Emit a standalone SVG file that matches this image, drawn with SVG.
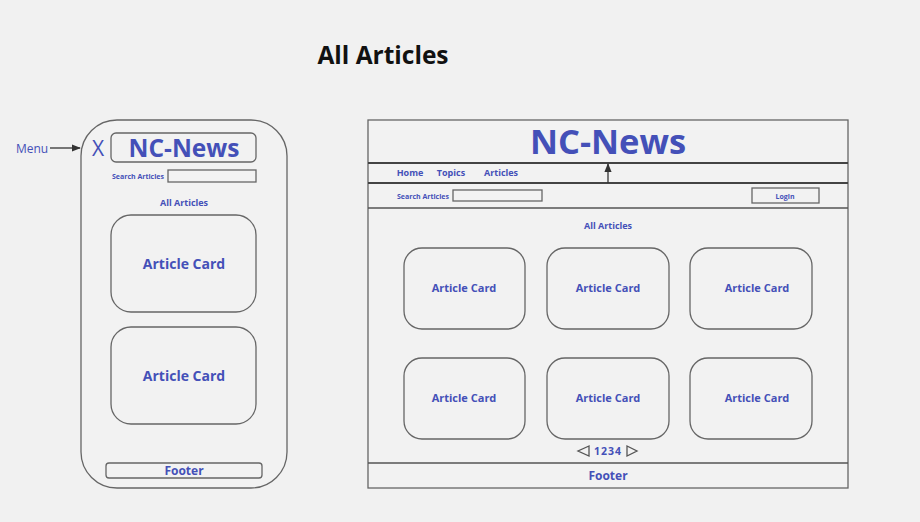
<svg xmlns="http://www.w3.org/2000/svg" width="920" height="522" viewBox="0 0 920 522">
<style>
.ln{fill:none;stroke:#555;stroke-width:1.3}
.bx{fill:#f2f2f2;stroke:#666;stroke-width:1.3}
.t{font-family:"Open Sans","Noto Sans",sans-serif;fill:#4450b8;font-weight:700;text-anchor:middle}
</style>
<defs>
<marker id="ah" viewBox="0 0 10 10" refX="9" refY="5" markerWidth="7" markerHeight="7" orient="auto-start-reverse"><path d="M0,1 L10,5 L0,9 z" fill="#333"/></marker>
</defs>
<rect width="920" height="522" fill="#f1f1f1"/>
<text x="383" y="64" font-family="'Open Sans','Noto Sans',sans-serif" font-weight="700" font-size="24.5" fill="#111" text-anchor="middle">All Articles</text>

<g id="mobile">
<rect x="81" y="120" width="206" height="368" rx="36" class="bx"/>
<text x="98" y="156" font-family="'Open Sans','Noto Sans',sans-serif" font-size="21" fill="#4450b8" text-anchor="middle">X</text>
<rect x="111" y="133" width="145" height="29" rx="5" class="bx"/>
<text x="184" y="157" class="t" font-size="24.5">NC-News</text>
<text x="138" y="179" class="t" font-size="7">Search Articles</text>
<rect x="168" y="170" width="88" height="12" class="bx"/>
<text x="184" y="206" class="t" font-size="9">All Articles</text>
<rect x="111" y="215" width="145" height="97" rx="20" class="bx"/>
<text x="184" y="269" class="t" font-size="14">Article Card</text>
<rect x="111" y="327" width="145" height="97" rx="20" class="bx"/>
<text x="184" y="381" class="t" font-size="14">Article Card</text>
<rect x="106" y="463" width="156" height="15" rx="3" class="bx"/>
<text x="184" y="475" class="t" font-size="12">Footer</text>
</g>

<g id="menu-label">
<text x="32" y="153" font-family="'Open Sans','Noto Sans',sans-serif" font-size="12" fill="#4450b8" text-anchor="middle">Menu</text>
</g>

<g id="desktop">
<rect x="368" y="120" width="480" height="368" class="bx"/>
<text x="608" y="154" class="t" font-size="34.5">NC-News</text>
<line x1="368" y1="163" x2="848" y2="163" stroke="#444" stroke-width="2"/>
<text x="410" y="176" class="t" font-size="9">Home</text>
<text x="451" y="176" class="t" font-size="9">Topics</text>
<text x="501" y="176" class="t" font-size="9">Articles</text>
<line x1="368" y1="183" x2="848" y2="183" stroke="#444" stroke-width="2"/>
<text x="423" y="198.5" class="t" font-size="7">Search Articles</text>
<rect x="453" y="190" width="89" height="11" class="bx"/>
<rect x="752" y="188" width="67" height="15" class="bx"/>
<text x="785" y="198.5" class="t" font-size="7">Login</text>
<line x1="368" y1="208" x2="848" y2="208" class="ln"/>
<text x="608" y="229" class="t" font-size="9">All Articles</text>
<rect x="404" y="248" width="121" height="81" rx="18" class="bx"/>
<text x="464" y="292" class="t" font-size="11">Article Card</text>
<rect x="547" y="248" width="122" height="81" rx="18" class="bx"/>
<text x="608" y="292" class="t" font-size="11">Article Card</text>
<rect x="690" y="248" width="122" height="81" rx="18" class="bx"/>
<text x="757" y="292" class="t" font-size="11">Article Card</text>
<rect x="404" y="358" width="121" height="81" rx="18" class="bx"/>
<text x="464" y="402" class="t" font-size="11">Article Card</text>
<rect x="547" y="358" width="122" height="81" rx="18" class="bx"/>
<text x="608" y="402" class="t" font-size="11">Article Card</text>
<rect x="690" y="358" width="122" height="81" rx="18" class="bx"/>
<text x="757" y="402" class="t" font-size="11">Article Card</text>
<path d="M589,446 L578,451 L589,456 Z" class="ln"/>
<text x="608" y="455" class="t" font-size="10.5" letter-spacing="1">1234</text>
<path d="M627,446 L637,451 L627,456 Z" class="ln"/>
<line x1="368" y1="463" x2="848" y2="463" class="ln"/>
<text x="608" y="480" class="t" font-size="12">Footer</text>
</g>

<g id="connectors">
<line x1="50" y1="148" x2="80" y2="148" stroke="#333" stroke-width="1.3" marker-end="url(#ah)"/>
<line x1="608" y1="183" x2="608" y2="164" stroke="#333" stroke-width="1.3" marker-end="url(#ah)"/>
</g>
</svg>
